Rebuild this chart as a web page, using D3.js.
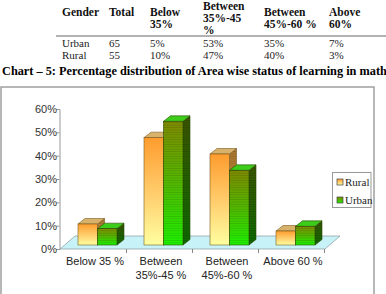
<!DOCTYPE html>
<html>
<head>
<meta charset="utf-8">
<script src="https://cdn.jsdelivr.net/npm/d3@7"></script>
<style>
  body { margin: 0; background: #fff; }
  svg { display: block; }
</style>
</head>
<body>
<div class="chart"></div>
<script>
// table above the chart
const tableHeader = [['Gender'], ['Total'], ['Below', '35%'], ['Between', '35%-45', '%'], ['Between', '45%-60 %'], ['Above', '60%']];
const urbanRow = ['Urban', '65', '5%', '53%', '35%', '7%'];
const ruralRow = ['Rural', '55', '10%', '47%', '40%', '3%'];
const title = 'Chart \u2013 5: Percentage distribution of Area wise status of learning in math';

// chart data
const categories = ['Below 35 %', 'Between 35%-45 %', 'Between 45%-60 %', 'Above 60 %'];
const series = ['Rural', 'Urban'];
const ruralValues = [9, 46, 39, 6];
const urbanValues = [7, 53, 32, 8];
const yTicks = [0, 10, 20, 30, 40, 50, 60];

const W = 386, H = 294;
const svg = d3.select('.chart').append('svg')
  .attr('width', W)
  .attr('height', H);

// ---- table ----
const colX = [62, 109, 150, 203, 264, 329];
const serif = 'Liberation Serif, Times New Roman, serif';
const sans = 'Liberation Sans, Arial, sans-serif';

const head = svg.append('g')
  .attr('font-family', serif)
  .attr('font-size', '11.5px')
  .attr('font-weight', 'bold')
  .attr('fill', '#111');
tableHeader.forEach((lines, i) => {
  const lh = 12;
  const first = 21.5 - (Math.max(lines.length, 2) - 1) * lh / 2;
  lines.forEach((t, j) => {
    head.append('text')
      .attr('x', colX[i])
      .attr('y', first + j * lh)
      .text(t);
  });
});

svg.append('line')
  .attr('x1', 56).attr('x2', W)
  .attr('y1', 36).attr('y2', 36)
  .attr('stroke', '#999')
  .attr('stroke-width', 1.5);

const rows = svg.append('g')
  .attr('font-family', serif)
  .attr('font-size', '11px')
  .attr('fill', '#222');
[urbanRow, ruralRow].forEach((row, r) => {
  rows.selectAll(null)
    .data(row)
    .enter()
    .append('text')
    .attr('x', (d, i) => colX[i])
    .attr('y', 47 + r * 11.5)
    .text(d => d);
});

svg.append('text')
  .attr('x', 2)
  .attr('y', 75)
  .attr('font-family', serif)
  .attr('font-size', '12.3px')
  .attr('font-weight', 'bold')
  .attr('fill', '#000')
  .text(title);

// ---- chart frame ----
svg.append('rect')
  .attr('x', 1).attr('y', 87)
  .attr('width', 373).attr('height', 230)
  .attr('fill', 'none')
  .attr('stroke', '#a0a0a0')
  .attr('stroke-width', 1.5);

// gradients
const defs = svg.append('defs');
const grad = (id, stops) => {
  const g = defs.append('linearGradient')
    .attr('id', id)
    .attr('x1', 0).attr('y1', 0).attr('x2', 0).attr('y2', 1);
  stops.forEach(([o, c]) => g.append('stop').attr('offset', o).attr('stop-color', c));
};
grad('ruralFront', [[0, '#ff9c2e'], [0.55, '#ffd070'], [1, '#ffffa0']]);
grad('ruralSide', [[0, '#a8742c'], [1, '#c8a050']]);
grad('urbanFront', [[0, '#7e8a00'], [0.5, '#52b800'], [1, '#1ef000']]);
grad('urbanSide', [[0, '#3a5400'], [1, '#0d6a00']]);

const stripes = defs.append('pattern')
  .attr('id', 'stripes')
  .attr('width', 4).attr('height', 2.4)
  .attr('patternUnits', 'userSpaceOnUse');
stripes.append('rect')
  .attr('width', 4).attr('height', 0.8)
  .attr('fill', '#000')
  .attr('opacity', 0.12);

const faces = {
  Rural: { front: 'url(#ruralFront)', top: '#d8b26a', side: 'url(#ruralSide)', stroke: '#7a5a20' },
  Urban: { front: 'url(#urbanFront)', top: '#3ccc1a', side: 'url(#urbanSide)', stroke: '#2a4a00' }
};

// ---- scales ----
const x0 = d3.scaleBand()
  .domain(categories)
  .range([60, 324])
  .padding(0);

const x1 = d3.scaleBand()
  .domain(series)
  .range([13.5, 52.5]);

const y = d3.scaleLinear()
  .domain([0, 60])
  .range([249, 109]);

// 3d offsets
const floorDepth = { dx: 15, dy: -13 };
const front = { dx: 4.5, dy: -4 };
const barDepth = { dx: 7, dy: -5.5 };

// floor
const fx0 = x0.range()[0], fx1 = x0.range()[1] + 1, fy = y(0);
svg.append('polygon')
  .attr('points', [
    [fx0, fy], [fx1, fy],
    [fx1 + floorDepth.dx, fy + floorDepth.dy],
    [fx0 + floorDepth.dx, fy + floorDepth.dy]
  ].map(p => p.join(',')).join(' '))
  .attr('fill', '#c6f2f8')
  .attr('stroke', '#8a9a9c')
  .attr('stroke-width', 0.7);

// y axis
const yAxis = d3.axisLeft(y)
  .tickValues(yTicks)
  .tickSize(3)
  .tickFormat(d => d + '%');
const yg = svg.append('g')
  .attr('transform', 'translate(59.5, 0)')
  .call(yAxis);
yg.select('.domain').attr('stroke', '#999');
yg.selectAll('.tick line').attr('stroke', '#999');
yg.selectAll('.tick text')
  .attr('font-family', sans)
  .attr('font-size', '11px')
  .attr('fill', '#333')
  .attr('x', -2.5);

// x axis: tick marks at category boundaries, wrapped labels
const boundaries = categories.map(c => x0(c) + x0.bandwidth());
svg.append('g')
  .selectAll('line')
  .data(boundaries)
  .enter()
  .append('line')
  .attr('x1', d => d + 0.5).attr('x2', d => d + 0.5)
  .attr('y1', y(0)).attr('y2', y(0) + 4)
  .attr('stroke', '#888');

const wrap = (text, width) => {
  const words = text.split(' ');
  const lines = [];
  let cur = '';
  const probe = svg.append('text').attr('font-family', sans).attr('font-size', '11px');
  words.forEach(w => {
    const t = cur ? cur + ' ' + w : w;
    probe.text(t);
    if (cur && probe.node().getComputedTextLength() > width) {
      lines.push(cur);
      cur = w;
    } else {
      cur = t;
    }
  });
  lines.push(cur);
  probe.remove();
  return lines;
};

const xl = svg.append('g')
  .attr('font-family', sans)
  .attr('font-size', '11px')
  .attr('fill', '#222')
  .attr('text-anchor', 'middle');
categories.forEach(c => {
  wrap(c, x0.bandwidth() - 4).forEach((line, j) => {
    xl.append('text')
      .attr('x', x0(c) + x0.bandwidth() / 2 + 2)
      .attr('y', 265 + j * 14)
      .text(line);
  });
});

// ---- bars ----
const bars = [];
categories.forEach((c, i) => {
  bars.push({ cat: c, s: 'Rural', v: ruralValues[i] });
  bars.push({ cat: c, s: 'Urban', v: urbanValues[i] });
});

const pts = arr => arr.map(p => p.join(',')).join(' ');

const barG = svg.append('g');
bars.forEach(d => {
  const f = faces[d.s];
  const xa = x0(d.cat) + x1(d.s) + front.dx;
  const xb = xa + x1.bandwidth();
  const yt = y(d.v) + front.dy;
  const yb = y(0) + front.dy;
  const g = barG.append('g');
  // side
  g.append('polygon')
    .attr('points', pts([[xb, yt], [xb + barDepth.dx, yt + barDepth.dy], [xb + barDepth.dx, yb + barDepth.dy], [xb, yb]]))
    .attr('fill', f.side)
    .attr('stroke', f.stroke)
    .attr('stroke-width', 0.6);
  g.append('polygon')
    .attr('points', pts([[xb, yt], [xb + barDepth.dx, yt + barDepth.dy], [xb + barDepth.dx, yb + barDepth.dy], [xb, yb]]))
    .attr('fill', 'url(#stripes)');
  // top
  g.append('polygon')
    .attr('points', pts([[xa, yt], [xb, yt], [xb + barDepth.dx, yt + barDepth.dy], [xa + barDepth.dx, yt + barDepth.dy]]))
    .attr('fill', f.top)
    .attr('stroke', f.stroke)
    .attr('stroke-width', 0.6);
  // front
  g.append('rect')
    .attr('x', xa).attr('y', yt)
    .attr('width', x1.bandwidth())
    .attr('height', yb - yt)
    .attr('fill', f.front)
    .attr('stroke', f.stroke)
    .attr('stroke-width', 0.6);
  if (d.s === 'Urban') {
    g.append('rect')
      .attr('x', xa).attr('y', yt)
      .attr('width', x1.bandwidth())
      .attr('height', yb - yt)
      .attr('fill', 'url(#stripes)');
  }
});

// ---- legend ----
const lg = svg.append('g');
lg.append('rect')
  .attr('x', 332.5).attr('y', 172.5)
  .attr('width', 38.5).attr('height', 35)
  .attr('fill', '#fff')
  .attr('stroke', '#999');
series.forEach((s, i) => {
  lg.append('rect')
    .attr('x', 337).attr('y', 179 + i * 18)
    .attr('width', 6).attr('height', 6)
    .attr('fill', faces[s].front)
    .attr('stroke', '#444')
    .attr('stroke-width', 0.7);
  lg.append('text')
    .attr('x', 345)
    .attr('y', 186 + i * 18)
    .attr('font-family', serif)
    .attr('font-size', '11px')
    .attr('fill', '#222')
    .text(s);
});
</script>
</body>
</html>
